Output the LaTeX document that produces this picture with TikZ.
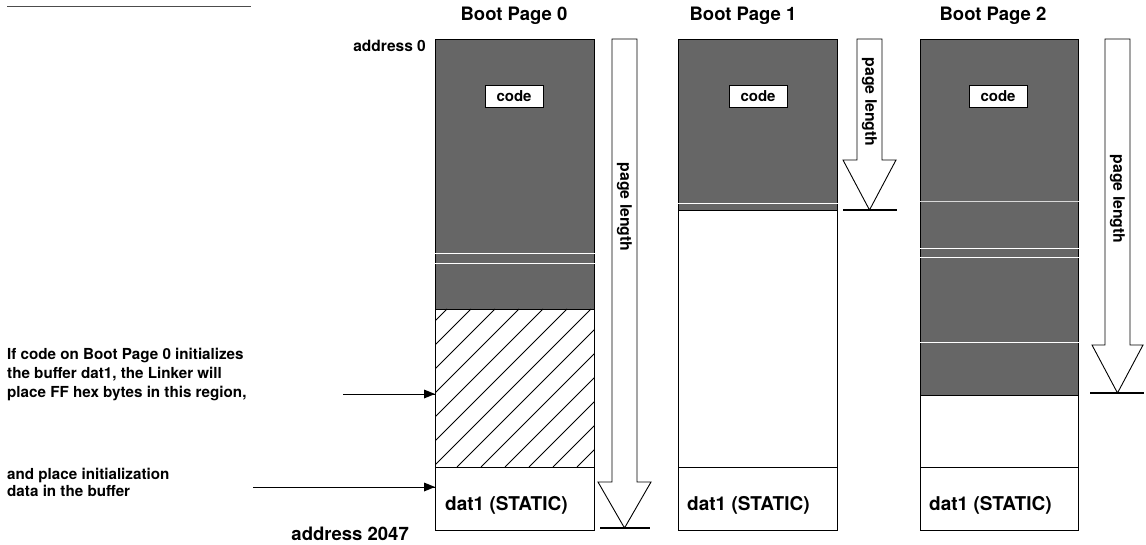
\documentclass[tikz,border=0pt]{standalone}
\usepackage{fontspec}
\setmainfont{TeX Gyre Heros}
\usetikzlibrary{arrows.meta}
\definecolor{dark}{gray}{0.40}
\tikzset{
  region/.style={draw=black, line width=0.9pt, inner sep=0pt, anchor=north west, minimum width=#1},
  region/.default=159pt,
  codebox/.style={draw=black, fill=white, line width=0.8pt, inner sep=0pt, minimum width=58pt, minimum height=22pt, font=\fontsize{15}{15}\selectfont\bfseries},
  lbl/.style={font=\fontsize{18.5}{18.5}\selectfont\bfseries, inner sep=0pt},
  addrsmall/.style={font=\fontsize{15.5}{15.5}\selectfont\bfseries, inner sep=0pt},
  sidetext/.style={font=\fontsize{15.2}{19}\selectfont\bfseries, inner sep=0pt, align=left, anchor=north west},
  sidetexttwo/.style={font=\fontsize{15.2}{17}\selectfont\bfseries, inner sep=0pt, align=left, anchor=north west},
  dattext/.style={font=\fontsize{19}{19}\selectfont\bfseries, inner sep=0pt, anchor=west},
  plen/.style={font=\fontsize{15.8}{15.8}\selectfont\bfseries, rotate=-90, inner sep=0pt},
  bigarrow/.style={draw=black, line width=0.9pt, fill=white},
  baseln/.style={line width=1.6pt},
  whiteln/.style={white, line width=0.8pt},
  ptr/.style={line width=0.9pt},
  ptrtip/.style={fill=black}
}
\begin{document}
\begin{tikzpicture}[x=1pt,y=-1pt]
\useasboundingbox (0,0) rectangle (1146,545);
% top rule
\draw[black!70, line width=0.8pt] (7,6) -- (251,6);

% ---------- Boot Page 0 ----------
\node[lbl] (t0) at (514,16) {Boot Page 0};
\node[addrsmall, anchor=east] (addr0) at (426,46) {address 0};
\node[region, fill=dark, minimum height=270pt] (code0) at (435,39) {};
\draw[whiteln] (code0.west |- 0,253) -- (code0.east |- 0,253);
\draw[whiteln] (code0.west |- 0,263) -- (code0.east |- 0,263);
\node[region, minimum height=158pt] (hatch0) at (435,309) {};
\begin{scope}
  \clip (hatch0.south west) rectangle (hatch0.north east);
  \foreach \i in {-170,-146,...,170}
    \draw[line width=0.9pt] (435+\i,467) -- ++(158,-158);
\end{scope}
\node[region, minimum height=63pt] (dat0) at (435,467) {};
\node[dattext] (d0) at (445,505) {dat1 (STATIC)};
\node[codebox] (c0) at (514,96) {code};
\draw[bigarrow] (612,39) -- (637,39) -- (637,482) -- (651,482) -- (624.5,528) -- (598,482) -- (612,482) -- cycle;
\node[plen] (p0) at (624.5,207) {page length};
\draw[baseln] (600,528) -- (650,528);
\node[lbl, anchor=east] (addr2047) at (409,534) {address 2047};

% ---------- Boot Page 1 ----------
\node[lbl] (t1) at (743,16) {Boot Page 1};
\node[region, fill=dark, minimum height=171pt] (code1) at (678,39) {};
\draw[whiteln] (code1.west |- 0,203) -- (code1.east |- 0,203);
\node[region, minimum height=257pt] (empty1) at (678,210) {};
\node[region, minimum height=63pt] (dat1) at (678,467) {};
\node[dattext] (d1) at (687,505) {dat1 (STATIC)};
\node[codebox] (c1) at (758,96) {code};
\draw[bigarrow] (857,39) -- (882,39) -- (882,160) -- (896,160) -- (869.5,210) -- (843,160) -- (857,160) -- cycle;
\node[plen] (p1) at (869.5,102) {page length};
\draw[baseln] (843,210) -- (897,210);

% ---------- Boot Page 2 ----------
\node[lbl] (t2) at (993,16) {Boot Page 2};
\node[region=158pt, fill=dark, minimum height=356pt] (code2) at (920,39) {};
\draw[white!75!dark, line width=0.6pt] (code2.west |- 0,201) -- (code2.east |- 0,201);
\draw[whiteln] (code2.west |- 0,248) -- (code2.east |- 0,248);
\draw[whiteln] (code2.west |- 0,257) -- (code2.east |- 0,257);
\draw[whiteln] (code2.west |- 0,342) -- (code2.east |- 0,342);
\node[region=158pt, minimum height=72pt] (empty2) at (920,395) {};
\node[region=158pt, minimum height=63pt] (dat2) at (920,467) {};
\node[dattext] (d2) at (929,505) {dat1 (STATIC)};
\node[codebox] (c2) at (998,96) {code};
\draw[bigarrow] (1105,39) -- (1130,39) -- (1130,345) -- (1143,345) -- (1117.5,393) -- (1092,345) -- (1105,345) -- cycle;
\node[plen] (p2) at (1117.5,199) {page length};
\draw[baseln] (1090,393) -- (1144,393);

% ---------- left notes ----------
\node[sidetext] (n1) at (7,348) {If code on Boot Page 0 initializes\\the buffer dat1, the Linker will\\place FF hex bytes in this region,};
\node[sidetexttwo] (n2) at (7,468) {and place initialization\\data in the buffer};
\coordinate (s1) at (343,394);
\coordinate (s2) at (253,487);
\coordinate (e1) at (s1 -| hatch0.west);
\coordinate (e2) at (s2 -| dat0.west);
\draw[ptr] (s1) -- (e1);
\fill[ptrtip] (e1) -- ++(-11,-4.5) -- ++(0,9) -- cycle;
\draw[ptr] (s2) -- (e2);
\fill[ptrtip] (e2) -- ++(-11,-4.5) -- ++(0,9) -- cycle;
\end{tikzpicture}
\end{document}
